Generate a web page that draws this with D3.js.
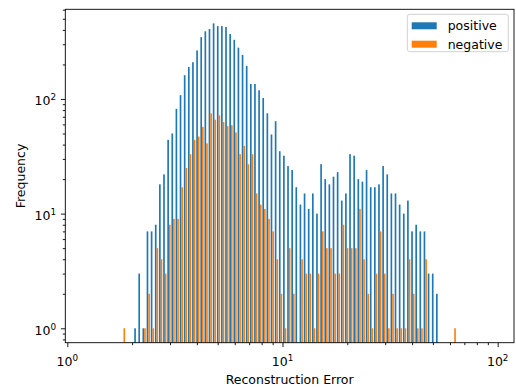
<!DOCTYPE html>
<html>
<head>
<meta charset="utf-8">
<script src="https://cdn.jsdelivr.net/npm/d3@7"></script>
<style>
  body { margin: 0; background: #fff; }
  text { font-family: "DejaVu Sans", sans-serif; fill: #000; }
</style>
</head>
<body>
<svg id="chart" width="516" height="388"></svg>
<script>
// histogram bins (log spaced)
const binStart = 1.784;
const binEnd = 64.19;
const binCount = 81;

const positive = [0, 0, 0, 1, 3, 1, 7, 7, 8, 18,
  22, 44, 50, 82, 108, 161, 190, 209, 265, 346,
  389, 407, 456, 432, 432, 424, 368, 328, 280, 242,
  194, 135, 135, 119, 102, 75, 49, 64, 35, 32,
  26, 24, 17, 12, 15, 11, 15, 10, 27, 20,
  18, 21, 23, 13, 15, 33, 32, 20, 19, 24,
  17, 17, 18, 26, 22, 15, 15, 12, 10, 13,
  7, 8, 7, 7, 3, 3, 2, 0, 0, 0, 0];

const negative = [1, 0, 0, 0, 0, 1, 2, 1, 5, 4,
  3, 8, 9, 9, 17, 25, 33, 44, 47, 57,
  41, 75, 66, 72, 63, 58, 59, 51, 33, 39,
  27, 33, 15, 12, 11, 9, 7, 4, 2, 1,
  5, 2, 0, 4, 3, 3, 1, 3, 7, 5,
  5, 3, 3, 8, 5, 5, 5, 11, 4, 2,
  1, 3, 7, 3, 1, 2, 1, 1, 1, 4,
  2, 1, 1, 4, 0, 0, 0, 0, 0, 0, 1];

const seriesNames = ["positive", "negative"];
const seriesColors = ["#1f77b4", "#ff7f0e"];
const majorTicks = [1, 10, 100];
const xLabel = "Reconstruction Error";
const yLabel = "Frequency";

const plot = {left: 65.3, right: 514, top: 9.3, bottom: 342.7};

const svg = d3.select("#chart");

const x = d3.scaleLog()
  .domain([0.9788, 119.06])
  .range([plot.left, plot.right]);

const y = d3.scaleLog()
  .domain([0.749, 605])
  .range([plot.bottom, plot.top]);

const edges = d3.range(binCount + 1)
  .map(i => binStart * Math.pow(binEnd / binStart, i / binCount));

// bars, side by side like matplotlib hist with two datasets
const bars = svg.append("g");
[positive, negative].forEach((counts, s) => {
  bars.selectAll(null)
    .data(counts.map((c, i) => ({c: c, i: i})).filter(d => d.c > 0))
    .enter()
    .append("rect")
    .attr("x", d => {
      const w = edges[d.i + 1] - edges[d.i];
      return x(edges[d.i] + (0.1 + 0.4 * s) * w);
    })
    .attr("width", d => {
      const w = edges[d.i + 1] - edges[d.i];
      return x(edges[d.i] + (0.5 + 0.4 * s) * w) - x(edges[d.i] + (0.1 + 0.4 * s) * w);
    })
    .attr("y", d => y(d.c))
    .attr("height", d => plot.bottom - y(d.c))
    .attr("fill", seriesColors[s]);
});

// minor tick values inside the domain
function minorTicks(scale) {
  const [lo, hi] = scale.domain();
  const out = [];
  for (let e = -1; e <= 3; e++) {
    for (let m = 2; m <= 9; m++) {
      const v = m * Math.pow(10, e);
      if (v >= lo && v <= hi) out.push(v);
    }
  }
  return out;
}

// x axis
svg.append("g")
  .attr("transform", "translate(0," + plot.bottom + ")")
  .call(d3.axisBottom(x).tickValues(minorTicks(x)).tickSize(2.5).tickFormat(""))
  .call(g => g.select(".domain").remove());
svg.append("g")
  .attr("transform", "translate(0," + plot.bottom + ")")
  .call(d3.axisBottom(x).tickValues(majorTicks).tickSize(4.4).tickFormat(""))
  .call(g => g.select(".domain").remove());

// y axis
svg.append("g")
  .attr("transform", "translate(" + plot.left + ",0)")
  .call(d3.axisLeft(y).tickValues(minorTicks(y)).tickSize(2.5).tickFormat(""))
  .call(g => g.select(".domain").remove());
svg.append("g")
  .attr("transform", "translate(" + plot.left + ",0)")
  .call(d3.axisLeft(y).tickValues(majorTicks).tickSize(4.4).tickFormat(""))
  .call(g => g.select(".domain").remove());

svg.selectAll(".tick line").attr("stroke", "#000").attr("stroke-width", 0.9);

// spines
svg.append("rect")
  .attr("x", plot.left).attr("y", plot.top)
  .attr("width", plot.right - plot.left).attr("height", plot.bottom - plot.top)
  .attr("fill", "none").attr("stroke", "#000").attr("stroke-width", 0.9);

// tick labels as 10^n
function powerLabel(g, v) {
  const t = g.append("text").style("font-size", "12.5px");
  t.append("tspan").text("10");
  t.append("tspan").attr("dy", -5).style("font-size", "8.8px").text(Math.round(Math.log10(v)));
  return t;
}

majorTicks.forEach(v => {
  powerLabel(svg, v)
    .attr("x", x(v)).attr("y", 365.5)
    .attr("text-anchor", "middle");
  powerLabel(svg, v)
    .attr("x", 56).attr("y", y(v) + 6.5)
    .attr("text-anchor", "end");
});

// axis titles
svg.append("text")
  .attr("x", (plot.left + plot.right) / 2).attr("y", 383.5)
  .attr("text-anchor", "middle")
  .style("font-size", "12.5px")
  .text(xLabel);

svg.append("text")
  .attr("transform", "translate(25," + (plot.top + plot.bottom) / 2 + ") rotate(-90)")
  .attr("text-anchor", "middle")
  .style("font-size", "12.5px")
  .text(yLabel);

// legend
const legend = svg.append("g");
legend.append("rect")
  .attr("x", 407.3).attr("y", 14.3)
  .attr("width", 101).attr("height", 37.4)
  .attr("rx", 2.5)
  .attr("fill", "#fff").attr("fill-opacity", 0.8)
  .attr("stroke", "#cccccc").attr("stroke-width", 0.9);

seriesNames.forEach((name, i) => {
  legend.append("rect")
    .attr("x", 411.7).attr("y", 22.3 + i * 18.4)
    .attr("width", 25).attr("height", 7)
    .attr("fill", seriesColors[i]);
  legend.append("text")
    .attr("x", 447.7).attr("y", 30.3 + i * 18.4)
    .style("font-size", "12.5px")
    .text(name);
});
</script>
</body>
</html>
